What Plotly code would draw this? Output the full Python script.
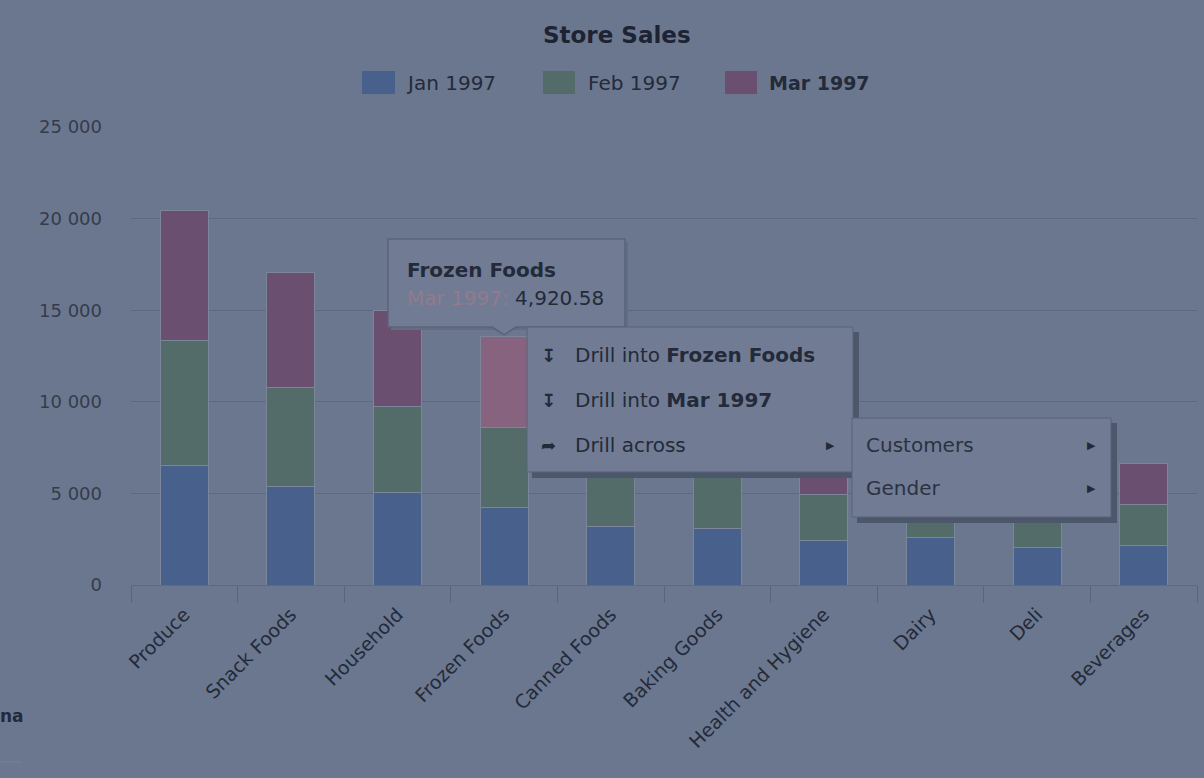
import plotly.graph_objects as go

# ---------------- data ----------------
categories = ["Produce", "Snack Foods", "Household", "Frozen Foods", "Canned Foods",
              "Baking Goods", "Health and Hygiene", "Dairy", "Deli", "Beverages"]
series_names = ["Jan 1997", "Feb 1997", "Mar 1997"]
jan_1997 = [6550, 5400, 5040, 4250, 3180, 3090, 2455, 2620, 2070, 2180]
feb_1997 = [6820, 5385, 4730, 4370, 3050, 2950, 2510, 2350, 2000, 2240]
mar_1997 = [7050, 6275, 5235, 4920.58, 3450, 3300, 2450, 2550, 2250, 2220]
y_ticks = [0, 5000, 10000, 15000, 20000, 25000]

hover_index = 3  # Frozen Foods / Mar 1997 is hovered

# ---------------- style ----------------
FONT = "DejaVu Sans"
BG = "#6b778f"
C_JAN = "#48608c"
C_FEB = "#536c6a"
C_MAR = "#6b4f70"
C_MAR_HI = "#88637f"
TXT = "#232a39"
PANEL = "#717c94"
PANEL_LINE = "#59637a"
SHADOW = "#4d576c"

W, H = 1204, 778
PL, PR, PT, PB = 131, 1197, 127, 585


def px(x):
    return (x - PL) / (PR - PL)


def py(y):
    return (PB - y) / (PB - PT)


mar_colors = [C_MAR_HI if i == hover_index else C_MAR for i in range(len(categories))]

fig = go.Figure()
for name, vals, col in [(series_names[0], jan_1997, C_JAN),
                        (series_names[1], feb_1997, C_FEB),
                        (series_names[2], mar_1997, mar_colors)]:
    fig.add_trace(go.Bar(
        x=categories, y=vals, name=name,
        marker=dict(color=col, line=dict(color="#7b869b", width=1)),
        hoverinfo="skip", showlegend=False,
    ))

fig.update_layout(
    width=W, height=H,
    barmode="stack", bargap=0.55,
    paper_bgcolor=BG, plot_bgcolor=BG,
    margin=dict(l=PL, r=W - PR, t=PT, b=H - PB, pad=0),
    separators=". ",
    font=dict(family=FONT, color=TXT),
    xaxis=dict(
        tickangle=-45, tickfont=dict(size=19, color=TXT, family=FONT),
        ticks="outside", tickson="boundaries", ticklen=17, tickcolor="#5a657b",
        ticklabelstandoff=10,
        showgrid=False, showline=True, linecolor="#5f6a81", linewidth=1,
        fixedrange=True,
    ),
    yaxis=dict(
        range=[0, 25000], tickvals=y_ticks, tickformat=",d",
        tickfont=dict(size=18, color="#343c4c", family=FONT),
        gridcolor="#5e6981", gridwidth=1, zeroline=False, showline=False,
        ticklabelstandoff=28, fixedrange=True,
    ),
)

shapes = []
annos = []

# title
annos.append(dict(x=px(617), y=py(35), xref="paper", yref="paper", text="<b>Store Sales</b>",
                  showarrow=False, font=dict(size=23, color="#1d2332", family=FONT),
                  xanchor="center", yanchor="middle"))

# custom legend
legend_pos = [(362, 395, 404), (543, 575, 586), (725, 757, 767)]
legend_cols = [C_JAN, C_FEB, C_MAR]
for i, (name, (sx0, sx1, tx)) in enumerate(zip(series_names, legend_pos)):
    shapes.append(dict(type="rect", xref="paper", yref="paper", x0=px(sx0), x1=px(sx1),
                       y0=py(71), y1=py(94), fillcolor=legend_cols[i], line=dict(width=0)))
    label = f"<b>{name}</b>" if i == 2 else name
    annos.append(dict(x=px(tx), y=py(83), xref="paper", yref="paper", text=label,
                      showarrow=False, font=dict(size=20 if i < 2 else 19, color=TXT, family=FONT),
                      xanchor="left", yanchor="middle"))

# tooltip (anchored to hovered point)
bx0, bx1, by0, by1 = 388, 625, 239, 327
band = (PR - PL) / len(categories)
tip_x = PL + (hover_index + 0.5) * band
tip_top_val = jan_1997[hover_index] + feb_1997[hover_index] + mar_1997[hover_index]
tip_y = PB - tip_top_val * (PB - PT) / 25000
shapes.append(dict(type="rect", xref="paper", yref="paper", x0=px(bx0 + 3), x1=px(bx1 + 3),
                   y0=py(by0 + 3), y1=py(by1 + 3), fillcolor="#626d84", line=dict(width=0)))
shapes.append(dict(type="rect", xref="paper", yref="paper", x0=px(bx0), x1=px(bx1),
                   y0=py(by0), y1=py(by1), fillcolor=PANEL, line=dict(color=PANEL_LINE, width=1.5)))
shapes.append(dict(type="path", xref="paper", yref="paper",
                   path=f"M {px(tip_x - 12)} {py(by1 - 1)} L {px(tip_x + 12)} {py(by1 - 1)} "
                        f"L {px(tip_x)} {py(tip_y - 2)} Z",
                   fillcolor=PANEL, line=dict(width=0)))
shapes.append(dict(type="path", xref="paper", yref="paper",
                   path=f"M {px(tip_x - 12)} {py(by1)} L {px(tip_x)} {py(tip_y - 2)} "
                        f"L {px(tip_x + 12)} {py(by1)}",
                   line=dict(color=PANEL_LINE, width=1.5)))
annos.append(dict(x=px(405), y=py(270), xref="paper", yref="paper",
                  text=f"<b>{categories[hover_index]}</b>", showarrow=False,
                  font=dict(size=20, color=TXT, family=FONT), xanchor="left", yanchor="middle"))
annos.append(dict(x=px(405), y=py(298), xref="paper", yref="paper",
                  text=f"<span style='color:#937a8d'>{series_names[2]}:</span> "
                       f"{mar_1997[hover_index]:,.2f}",
                  showarrow=False, font=dict(size=20, color=TXT, family=FONT),
                  xanchor="left", yanchor="middle"))

# context menu
mx0, mx1, my0, my1 = 527, 853, 327, 472
shapes.append(dict(type="rect", xref="paper", yref="paper", x0=px(mx0 + 5), x1=px(mx1 + 6),
                   y0=py(my0 + 5), y1=py(my1 + 6), fillcolor=SHADOW, line=dict(width=0)))
shapes.append(dict(type="rect", xref="paper", yref="paper", x0=px(mx0), x1=px(mx1),
                   y0=py(my0), y1=py(my1), fillcolor=PANEL, line=dict(color=PANEL_LINE, width=1)))
menu_items = [("↧", f"Drill into <b>{categories[hover_index]}</b>", 355, False),
              ("↧", f"Drill into <b>{series_names[2]}</b>", 400, False),
              ("➦", "Drill across", 445, True)]
for icon, text, yy, sub in menu_items:
    annos.append(dict(x=px(548), y=py(yy), xref="paper", yref="paper", text=f"<b>{icon}</b>",
                      showarrow=False, font=dict(size=18, color=TXT, family=FONT),
                      xanchor="center", yanchor="middle"))
    annos.append(dict(x=px(573), y=py(yy), xref="paper", yref="paper", text=text,
                      showarrow=False, font=dict(size=20, color=TXT, family=FONT),
                      xanchor="left", yanchor="middle"))
    if sub:
        annos.append(dict(x=px(830), y=py(yy), xref="paper", yref="paper", text="▶",
                          showarrow=False, font=dict(size=11, color=TXT, family=FONT),
                          xanchor="center", yanchor="middle"))

# submenu
sx0, sx1, sy0, sy1 = 852, 1111, 418, 517
shapes.append(dict(type="rect", xref="paper", yref="paper", x0=px(sx0 + 5), x1=px(sx1 + 6),
                   y0=py(sy0 + 5), y1=py(sy1 + 6), fillcolor=SHADOW, line=dict(width=0)))
shapes.append(dict(type="rect", xref="paper", yref="paper", x0=px(sx0), x1=px(sx1),
                   y0=py(sy0), y1=py(sy1), fillcolor=PANEL, line=dict(color=PANEL_LINE, width=1)))
for text, yy in [("Customers", 445), ("Gender", 488)]:
    annos.append(dict(x=px(864), y=py(yy), xref="paper", yref="paper", text=text,
                      showarrow=False, font=dict(size=20, color="#2b3242", family=FONT),
                      xanchor="left", yanchor="middle"))
    annos.append(dict(x=px(1091), y=py(yy), xref="paper", yref="paper", text="▶",
                      showarrow=False, font=dict(size=11, color=TXT, family=FONT),
                      xanchor="center", yanchor="middle"))

# cut-off text at bottom-left
annos.append(dict(x=px(-2), y=py(716), xref="paper", yref="paper", text="<b>na</b>",
                  showarrow=False, font=dict(size=17, color=TXT, family=FONT),
                  xanchor="left", yanchor="middle"))
shapes.append(dict(type="line", xref="paper", yref="paper", x0=px(0), x1=px(22),
                   y0=py(762), y1=py(762), line=dict(color="#77829a", width=1)))

fig.update_layout(shapes=shapes, annotations=annos)
fig.write_html(
    "out.html",
    config={"displayModeBar": False},
    post_script="document.body.style.margin='0';document.body.style.background='" + BG + "';"
                "document.body.style.overflow='hidden';",
)
